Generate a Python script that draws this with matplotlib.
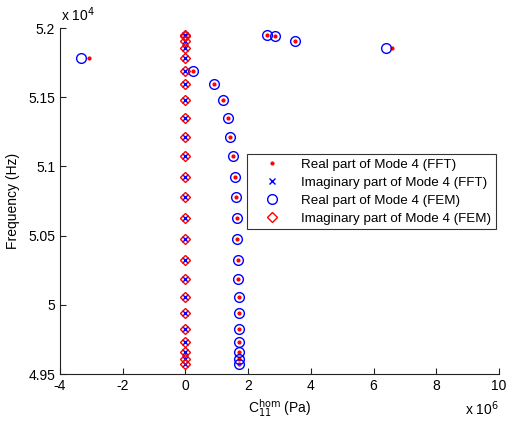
import matplotlib
matplotlib.use("Agg")
import matplotlib.pyplot as plt
from matplotlib.ticker import FuncFormatter, FixedLocator

plt.rcParams['font.family'] = ['Liberation Sans', 'DejaVu Sans']

# Frequencies (Hz)
freq = [51949, 51942, 51906, 51855, 51783, 51689, 51595, 51480, 51350, 51212,
        51075, 50923, 50779, 50627, 50475, 50324, 50186, 50056, 49941, 49825,
        49731, 49659, 49608, 49572]

# C11 hom values (Pa)
real_fem = [2.60e6, 2.86e6, 3.49e6, 6.40e6, -3.33e6, 0.24e6, 0.91e6, 1.20e6, 1.36e6, 1.42e6,
            1.52e6, 1.58e6, 1.61e6, 1.64e6, 1.64e6, 1.68e6, 1.68e6, 1.70e6, 1.71e6, 1.71e6,
            1.71e6, 1.71e6, 1.71e6, 1.71e6]
real_fft = [2.60e6, 2.86e6, 3.49e6, 6.59e6, -3.08e6, 0.24e6, 0.91e6, 1.20e6, 1.36e6, 1.42e6,
            1.52e6, 1.58e6, 1.61e6, 1.64e6, 1.64e6, 1.68e6, 1.68e6, 1.70e6, 1.71e6, 1.71e6,
            1.71e6, 1.71e6, 1.71e6, 1.71e6]
imag_fft = [0.0] * 24
imag_fem = [0.0] * 24

labels = ['Real part of Mode 4 (FFT)', 'Imaginary part of Mode 4 (FFT)',
          'Real part of Mode 4 (FEM)', 'Imaginary part of Mode 4 (FEM)']

xticks = [-4e6, -2e6, 0, 2e6, 4e6, 6e6, 8e6, 10e6]
yticks = [4.95e4, 5.0e4, 5.05e4, 5.1e4, 5.15e4, 5.2e4]

fig = plt.figure(figsize=(5.07, 4.21), dpi=100)
ax = fig.add_axes([60/507, 1-374/421, 439/507, 346/421])

ax.plot(real_fft, freq, '.', color='red', ms=4, label=labels[0], linestyle='none')
ax.plot(imag_fft, freq, 'x', color='blue', ms=4.5, mew=1, label=labels[1], linestyle='none')
ax.plot(real_fem, freq, 'o', color='blue', mfc='none', ms=7, mew=1, label=labels[2], linestyle='none')
ax.plot(imag_fem, freq, 'D', color='red', mfc='none', ms=5.5, mew=1, label=labels[3], linestyle='none')

ax.set_xlim(-4e6, 10e6)
ax.set_ylim(4.95e4, 5.2e4)
ax.xaxis.set_major_locator(FixedLocator(xticks))
ax.yaxis.set_major_locator(FixedLocator(yticks))
ax.xaxis.set_major_formatter(FuncFormatter(lambda v, p: '%g' % (v / 1e6) if abs(v) > 1 else '0'))
ax.yaxis.set_major_formatter(FuncFormatter(lambda v, p: '%g' % (v / 1e4)))

for s in ['top', 'right']:
    ax.spines[s].set_visible(False)
for s in ['left', 'bottom']:
    ax.spines[s].set_linewidth(0.8)
    ax.spines[s].set_color('#222222')
ax.tick_params(direction='in', length=4, width=0.8, labelsize=10, colors='#222222',
               labelcolor='black')

ax.set_xlabel(r'C$_{11}^{\mathrm{hom}}$ (Pa)', fontsize=10, labelpad=3)
ax.set_ylabel('Frequency (Hz)', fontsize=10, labelpad=6)

fig.text(60/507 + 0.002, 1 - 15/421, r'x 10$^{4}$', fontsize=10, va='center', ha='left')
fig.text(499/507, 1 - 409/421, r'x 10$^{6}$', fontsize=10, va='center', ha='right')

leg = ax.legend(loc='upper left', bbox_to_anchor=((247-60)/439, 1-(154-28)/346),
                prop={'size': 9.6}, frameon=True, fancybox=False, edgecolor='black',
                borderpad=0.35, labelspacing=0.42, handlelength=3.0, handletextpad=0.7,
                borderaxespad=0)
leg.get_frame().set_linewidth(0.8)

fig.savefig('out.png', dpi=100)
